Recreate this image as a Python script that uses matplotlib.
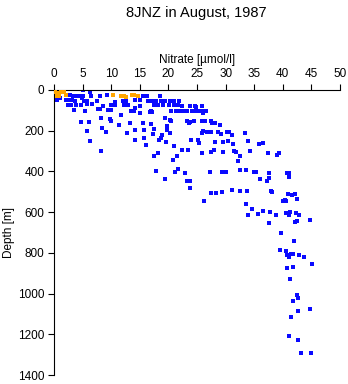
import matplotlib
matplotlib.use("Agg")
import matplotlib.pyplot as plt

# Nitrate (umol/l) and depth (m)
blue_nitrate = [
    0.2, 0.6, 1.0, 5.1, 6.3, 6.4, 0.5, 1.0, 0.6, 2.8, 3.4, 4.0, 4.5, 4.9, 5.1,
    8.0, 9.2, 15.6, 16.3, 18.5, 2.1, 2.7, 3.2, 3.7, 5.2, 5.7, 7.5, 10.7, 12.0,
    12.6, 14.2, 15.0, 16.5, 17.1, 17.8, 18.7, 19.4, 20.2, 21.0, 21.8, 2.5, 2.9,
    3.8, 4.7, 5.8, 6.6, 8.6, 9.9, 10.6, 12.2, 12.9, 14.2, 15.1, 17.5, 18.2,
    19.0, 20.1, 21.0, 21.7, 22.4, 23.8, 24.6, 24.8, 25.8, 3.5, 5.5, 7.7, 8.0,
    9.4, 10.0, 13.5, 13.9, 16.9, 17.2, 20.5, 21.4, 21.8, 22.6, 23.3, 24.1,
    24.5, 25.0, 25.5, 26.1, 26.5, 26.1, 15.0, 11.8, 16.8, 8.2, 9.8, 19.4, 20.3,
    23.2, 24.5, 25.8, 26.4, 27.4, 27.6, 28.2, 23.6,
    4.7, 6.2, 5.8, 6.3, 8.2, 8.4, 9.1, 9.9, 11.4, 12.8, 13.2, 14.2, 14.2, 15.7,
    15.8, 16.0, 15.6, 16.9, 17.3, 17.4, 17.5, 17.9, 18.2, 18.4, 18.7, 18.9,
    19.4, 19.7, 19.8, 19.6, 20.3, 20.4, 20.9, 20.8, 21.2, 21.6, 21.5, 22.4,
    22.9, 23.2, 23.8, 23.8, 23.5, 24.0, 23.8, 25.1, 25.4, 25.8, 25.8, 26.0,
    26.3, 26.8, 27.2, 27.4, 27.5, 27.5, 27.9, 28.1, 28.3, 28.7, 29.0, 29.3,
    29.3, 29.2, 29.5, 29.5, 30.0, 30.2, 30.4, 30.6, 31.1, 31.2, 31.3, 31.5,
    31.9, 32.2, 32.6, 32.6, 32.6, 33.4, 33.5, 33.6, 33.7, 34.0, 34.2, 34.0,
    34.7, 35.0, 35.4, 35.7, 35.9, 36.1, 36.5, 36.5, 37.2, 37.4, 37.5, 37.5,
    37.6, 37.7, 37.9, 38.1, 38.8, 38.9, 39.4, 39.7, 40.0, 40.4, 40.6, 40.6,
    40.8, 41.0, 41.1, 40.9, 41.1, 41.2, 41.6, 42.0, 42.1, 42.2, 42.3, 42.4,
    42.4, 42.9, 44.8,
    39.5, 40.6, 40.7, 41.1, 41.5, 41.7, 42.9, 43.7, 45.1, 40.8, 41.7, 41.3,
    42.5, 42.7, 41.8, 42.7, 44.8, 41.4, 41.0, 42.7, 43.1, 45.0,
]
blue_depth = [
    4, 4, 4, 2, 11, 28, 33, 41, 49, 24, 28, 28, 28, 40, 30,
    28, 24, 28, 28, 28, 49, 49, 50, 52, 52, 52, 52, 57, 54,
    54, 49, 49, 52, 52, 52, 54, 54, 54, 52, 52, 73, 73,
    73, 73, 70, 70, 78, 73, 73, 76, 76, 86, 81, 76, 76,
    76, 76, 76, 76, 77, 77, 77, 85, 77, 98, 103, 94, 94,
    98, 98, 103, 103, 103, 106, 103, 103, 103, 103, 103, 103,
    103, 103, 103, 103, 103, 111, 114, 122, 109, 139, 143, 139, 145,
    152, 152, 152, 152, 152, 163, 163, 163,
    155, 158, 202, 251, 300, 187, 207, 153, 173, 212, 160, 196, 248, 196,
    236, 270, 163, 168, 217, 190, 323, 399, 310, 244, 236, 220,
    437, 196, 175, 253, 212, 152, 277, 345, 403, 386, 326, 297,
    407, 445, 445, 481, 293, 244, 155, 244, 261, 310, 212, 200,
    543, 204, 403, 207, 306, 508, 297, 256, 508, 207, 171, 503,
    403, 214, 253, 304, 403, 204, 251, 205, 220, 489, 267, 300,
    304, 350, 322, 394, 497, 212, 394, 562, 497, 251, 300, 614,
    587, 403, 403, 608, 265, 437, 595, 259, 445, 310, 407, 655,
    432, 598, 497, 502, 613, 318, 310, 701, 543, 538, 546, 603,
    409, 407, 428, 511, 613, 600, 516, 740, 509, 649, 606, 533,
    642, 613, 640,
    787, 790, 810, 818, 806, 806, 811, 818, 855, 872, 869, 929,
    1007, 1023, 1035, 1084, 1076, 1116, 1206, 1230, 1292, 1292,
]
orange_nitrate = [0.2, 0.5, 1.3, 1.8, 2.1, 0.5, 0.9, 10.4, 11.7, 12.2, 12.6, 13.6, 14.0, 14.7]
orange_depth = [8, 15, 8, 12, 24, 28, 28, 24, 28, 28, 33, 24, 24, 28]

x_ticks = [0, 5, 10, 15, 20, 25, 30, 35, 40, 45, 50]
y_ticks = [0, 200, 400, 600, 800, 1000, 1200, 1400]

plt.rcParams["font.family"] = ["Liberation Sans", "DejaVu Sans"]

fig = plt.figure(figsize=(3.48, 3.84), dpi=100)
ax = fig.add_axes([54 / 348, 1 - 375 / 384, 286 / 348, 285 / 384])

ax.scatter(blue_nitrate, blue_depth, marker="s", s=5.5, color="#0a0aff",
           linewidths=0, zorder=2)
ax.scatter(orange_nitrate, orange_depth, marker="s", s=5.5, color="#ffa500",
           linewidths=0, zorder=3)

ax.set_xlim(0, 50)
ax.set_ylim(1400, 0)
ax.set_xticks(x_ticks)
ax.set_yticks(y_ticks)
ax.xaxis.tick_top()
ax.xaxis.set_label_position("top")
ax.set_xlabel("Nitrate [µmol/l]", fontsize=8.5, labelpad=4)
ax.set_ylabel("Depth [m]", fontsize=8.5, labelpad=2)
ax.tick_params(axis="both", labelsize=8.5, width=0.8, length=4, color="black",
               pad=3)

for side in ("right", "bottom"):
    ax.spines[side].set_visible(False)
for side in ("top", "left"):
    ax.spines[side].set_linewidth(0.8)

fig.text(196 / 348, 1 - 13 / 384, "8JNZ in August, 1987", ha="center",
         va="center", fontsize=10.5)

fig.savefig("out.png", dpi=100)
